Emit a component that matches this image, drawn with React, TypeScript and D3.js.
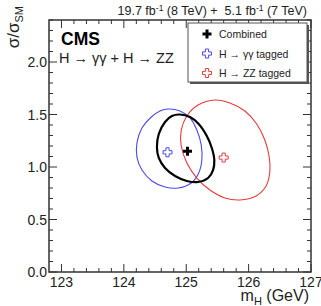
import React, { useEffect, useRef } from 'react';
import * as d3 from 'd3';

// best-fit points (mH, sigma/sigmaSM)
const pointNames = ['Combined', 'H → γγ tagged', 'H → ZZ tagged'];
const pointMass = [125.02, 124.7, 125.6];
const pointMu = [1.15, 1.14, 1.09];
const pointColors = ['#000000', '#4a4ae8', '#e8393b'];

// 68% CL contours, [mH, sigma/sigmaSM]
const gammaContour = [
  [124.71, 1.552], [124.9, 1.533], [125.06, 1.467], [125.17, 1.352], [125.24, 1.21],
  [125.25, 1.067], [125.2, 0.943], [125.08, 0.848], [124.87, 0.8], [124.66, 0.81],
  [124.45, 0.867], [124.29, 0.971], [124.21, 1.095], [124.21, 1.229], [124.29, 1.371],
  [124.44, 1.476], [124.58, 1.533],
];
const combinedContour = [
  [124.9, 1.5], [125.06, 1.476], [125.2, 1.41], [125.33, 1.295], [125.41, 1.181],
  [125.45, 1.067], [125.43, 0.971], [125.35, 0.895], [125.19, 0.857], [125.01, 0.867],
  [124.82, 0.914], [124.66, 0.99], [124.56, 1.086], [124.53, 1.19], [124.56, 1.314],
  [124.66, 1.429], [124.77, 1.486],
];
const zzContour = [
  [125.46, 1.638], [125.7, 1.61], [125.94, 1.533], [126.13, 1.41], [126.26, 1.257],
  [126.33, 1.095], [126.34, 0.952], [126.28, 0.819], [126.12, 0.724], [125.86, 0.686],
  [125.62, 0.705], [125.38, 0.781], [125.17, 0.895], [125.01, 1.038], [124.92, 1.2],
  [124.92, 1.352], [125.01, 1.486], [125.19, 1.59],
];

const xMajor = [123, 124, 125, 126, 127];
const yMajor = [0, 0.5, 1, 1.5, 2];

const W = 321;
const H = 306;
const m = { left: 49, top: 20, right: 311, bottom: 272 };
const font = 'Liberation Sans, Arial, Helvetica, sans-serif';

// plus-shaped marker, filled or open
const crossPath = (s: number, t: number) =>
  `M${-t},${-s}H${t}V${-t}H${s}V${t}H${t}V${s}H${-t}V${t}H${-s}V${-t}H${-t}Z`;

const App = () => {
  const svgRef = useRef<SVGSVGElement>(null);

  useEffect(() => {
    const svg = d3.select(svgRef.current);
    svg.selectAll('*').remove();

    const x = d3.scaleLinear().domain([122.8, 127]).range([m.left, m.right]);
    const y = d3.scaleLinear().domain([0, 2.4]).range([m.bottom, m.top]);

    svg.append('rect').attr('width', W).attr('height', H).attr('fill', '#fff');

    const line = d3
      .line<number[]>()
      .x((d) => x(d[0]))
      .y((d) => y(d[1]))
      .curve(d3.curveCatmullRomClosed.alpha(0.5));

    const plot = svg.append('g');
    plot.append('path').attr('d', line(gammaContour)).attr('fill', 'none')
      .attr('stroke', pointColors[1]).attr('stroke-width', 1.1);
    plot.append('path').attr('d', line(zzContour)).attr('fill', 'none')
      .attr('stroke', pointColors[2]).attr('stroke-width', 1.1);
    plot.append('path').attr('d', line(combinedContour)).attr('fill', 'none')
      .attr('stroke', pointColors[0]).attr('stroke-width', 2.2);

    // best-fit markers
    pointNames.forEach((_, i) => {
      const g = plot.append('g')
        .attr('transform', `translate(${x(pointMass[i])},${y(pointMu[i])})`);
      if (i === 0) {
        g.append('path').attr('d', crossPath(4.5, 1.5)).attr('fill', '#000');
      } else {
        g.append('path').attr('d', crossPath(4.5, 1.6)).attr('fill', '#fff')
          .attr('stroke', pointColors[i]).attr('stroke-width', 1);
      }
    });

    // ticks on all four sides, pointing inward
    const ticks = svg.append('g').attr('stroke', '#333').attr('stroke-width', 1);
    d3.range(123, 127.001, 0.2).forEach((v) => {
      const major = Math.abs(v - Math.round(v)) < 1e-6;
      const len = major ? 8 : 4;
      ticks.append('line').attr('x1', x(v)).attr('x2', x(v))
        .attr('y1', m.bottom).attr('y2', m.bottom - len);
      ticks.append('line').attr('x1', x(v)).attr('x2', x(v))
        .attr('y1', m.top).attr('y2', m.top + len);
    });
    d3.range(0, 2.4001, 0.1).forEach((v) => {
      const major = Math.abs(v * 2 - Math.round(v * 2)) < 1e-6;
      const len = major ? 8 : 4;
      ticks.append('line').attr('y1', y(v)).attr('y2', y(v))
        .attr('x1', m.left).attr('x2', m.left + len);
      ticks.append('line').attr('y1', y(v)).attr('y2', y(v))
        .attr('x1', m.right).attr('x2', m.right - len);
    });

    svg.append('rect').attr('x', m.left).attr('y', m.top)
      .attr('width', m.right - m.left).attr('height', m.bottom - m.top)
      .attr('fill', 'none').attr('stroke', '#333').attr('stroke-width', 1.5);

    const labels = svg.append('g').attr('font-family', font).attr('fill', '#222');
    xMajor.forEach((v) => {
      labels.append('text').attr('x', x(v)).attr('y', m.bottom + 15)
        .attr('text-anchor', 'middle').attr('font-size', 14).text(v);
    });
    yMajor.forEach((v) => {
      labels.append('text').attr('x', m.left - 2).attr('y', y(v) + 5)
        .attr('text-anchor', 'end').attr('font-size', 14).text(d3.format('.1f')(v));
    });

    // axis titles
    const xt = labels.append('text').attr('x', m.right - 2).attr('y', 301)
      .attr('text-anchor', 'end').attr('font-size', 16);
    xt.append('tspan').text('m');
    xt.append('tspan').attr('font-size', 11).attr('dy', 4).text('H');
    xt.append('tspan').attr('dy', -4).text(' (GeV)');

    const yt = labels.append('text').attr('transform', 'translate(19,6) rotate(-90)')
      .attr('text-anchor', 'end').attr('font-size', 17);
    yt.append('tspan').text('σ/σ');
    yt.append('tspan').attr('font-size', 11).attr('dy', 4).text('SM');

    // luminosity label
    const lumi = labels.append('text').attr('x', m.right - 4).attr('y', 15)
      .attr('text-anchor', 'end').attr('font-size', 12.5);
    lumi.append('tspan').text('19.7 fb');
    lumi.append('tspan').attr('font-size', 8.5).attr('dy', -4.5).text('-1');
    lumi.append('tspan').attr('dy', 4.5).text(' (8 TeV) +\u00a0 5.1 fb');
    lumi.append('tspan').attr('font-size', 8.5).attr('dy', -4.5).text('-1');
    lumi.append('tspan').attr('dy', 4.5).text(' (7 TeV)');

    labels.append('text').attr('x', 61).attr('y', 45).attr('font-size', 17.5)
      .attr('font-weight', 'bold').attr('fill', '#000').text('CMS');
    labels.append('text').attr('x', 59).attr('y', 63).attr('font-size', 14.5)
      .text('H → γγ + H → ZZ');

    // legend
    const lg = svg.append('g');
    lg.append('rect').attr('x', 190).attr('y', 25).attr('width', 119).attr('height', 59)
      .attr('fill', '#555');
    lg.append('rect').attr('x', 188).attr('y', 23).attr('width', 119).attr('height', 59)
      .attr('fill', '#fff').attr('stroke', '#555').attr('stroke-width', 1);
    pointNames.forEach((name, i) => {
      const ry = 34 + i * 19.5;
      const g = lg.append('g').attr('transform', `translate(207,${ry})`);
      if (i === 0) {
        g.append('path').attr('d', crossPath(4.5, 1.5)).attr('fill', '#000');
      } else {
        g.append('path').attr('d', crossPath(4.5, 1.6)).attr('fill', '#fff')
          .attr('stroke', pointColors[i]).attr('stroke-width', 1);
      }
      lg.append('text').attr('x', 219).attr('y', ry + 4).attr('font-family', font)
        .attr('font-size', 10.5).attr('fill', '#222').text(name);
    });
  }, []);

  return <svg ref={svgRef} width={W} height={H} style={{ position: 'absolute', left: 0, top: 0 }} />;
};

export default App;
